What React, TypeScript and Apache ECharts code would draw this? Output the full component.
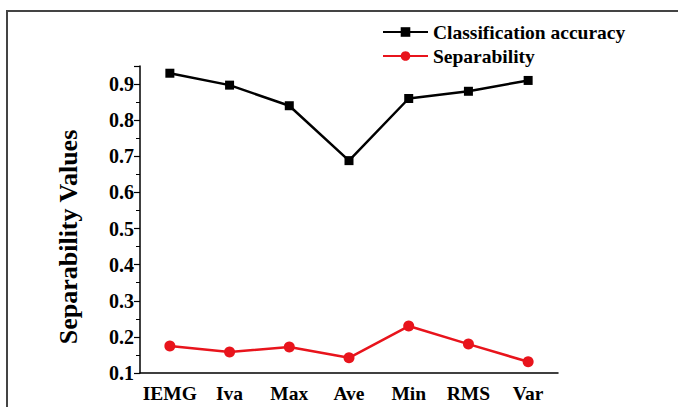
import React, { useEffect, useRef } from "react";
import * as echarts from "echarts";

const categories = ["IEMG", "Iva", "Max", "Ave", "Min", "RMS", "Var"];
const accuracy = [0.93, 0.897, 0.84, 0.688, 0.86, 0.88, 0.91];
const separability = [0.175, 0.158, 0.172, 0.142, 0.23, 0.18, 0.131];
const yAxisTitle = "Separability Values";
const seriesNames = ["Classification accuracy", "Separability"];

const FONT = '"Liberation Serif", "Times New Roman", serif';

export default function App() {
  const ref = useRef<HTMLDivElement>(null);
  useEffect(() => {
    if (!ref.current) return;
    const chart = echarts.init(ref.current, undefined, { renderer: "svg" });
    chart.setOption({
      animation: false,
      backgroundColor: "#ffffff",
      grid: { left: 140, top: 66, right: 120, bottom: 34, containLabel: false },
      legend: {
        orient: "vertical",
        left: 382,
        top: 22,
        padding: 0,
        itemWidth: 45,
        itemHeight: 12,
        itemGap: 4,
        textStyle: {
          fontFamily: FONT,
          fontWeight: "bold",
          fontSize: 19.5,
          lineHeight: 19,
          color: "#000",
        },
        data: seriesNames,
      },
      xAxis: [
        {
          type: "category",
          data: categories,
          boundaryGap: true,
          axisLine: { lineStyle: { color: "#000", width: 1.5 } },
          axisTick: { alignWithLabel: true, interval: 0, length: 7, lineStyle: { color: "#000", width: 1.2 } },
          axisLabel: {
            interval: 0,
            fontFamily: FONT,
            fontWeight: "bold",
            fontSize: 19.5,
            color: "#000",
            margin: 10,
          },
          splitLine: { show: false },
        },
        {
          type: "category",
          data: categories,
          position: "bottom",
          boundaryGap: true,
          axisLine: { show: false },
          axisTick: { alignWithLabel: false, interval: 0, length: 4, lineStyle: { color: "#000", width: 1 } },
          axisLabel: { show: false },
          splitLine: { show: false },
        },
      ],
      yAxis: {
        type: "value",
        min: 0.1,
        max: 0.95,
        interval: 0.1,
        axisLine: { show: true, lineStyle: { color: "#000", width: 1.5 } },
        axisTick: { show: true, length: 6, lineStyle: { color: "#000", width: 1.2 } },
        minorTick: { show: true, splitNumber: 2, length: 4, lineStyle: { color: "#000", width: 1 } },
        axisLabel: {
          fontFamily: FONT,
          fontWeight: "bold",
          fontSize: 20,
          color: "#000",
          margin: 6,
          showMaxLabel: false,
          formatter: (v: number) => v.toFixed(1),
        },
        splitLine: { show: false },
      },
      graphic: [
        {
          type: "rect",
          shape: { x: 7, y: 11, width: 720, height: 450 },
          style: { fill: "none", stroke: "#444", lineWidth: 2 },
          silent: true,
        },
        {
          type: "text",
          x: 68,
          y: 237,
          rotation: Math.PI / 2,
          style: {
            text: yAxisTitle,
            fontFamily: FONT,
            fontWeight: "bold",
            fontSize: 26,
            fill: "#000",
            align: "center",
            verticalAlign: "middle",
          },
        },
      ],
      series: [
        {
          name: seriesNames[0],
          type: "line",
          data: accuracy,
          symbol: "rect",
          symbolSize: 9,
          itemStyle: { color: "#000" },
          lineStyle: { color: "#000", width: 2.5 },
        },
        {
          name: seriesNames[1],
          type: "line",
          data: separability,
          symbol: "circle",
          symbolSize: 11,
          itemStyle: { color: "#e8141c" },
          lineStyle: { color: "#e8141c", width: 2.5 },
        },
      ],
    });
    return () => chart.dispose();
  }, []);
  return (
    <div
      ref={ref}
      style={{ position: "fixed", left: 0, top: 0, width: 678, height: 407 }}
    />
  );
}
